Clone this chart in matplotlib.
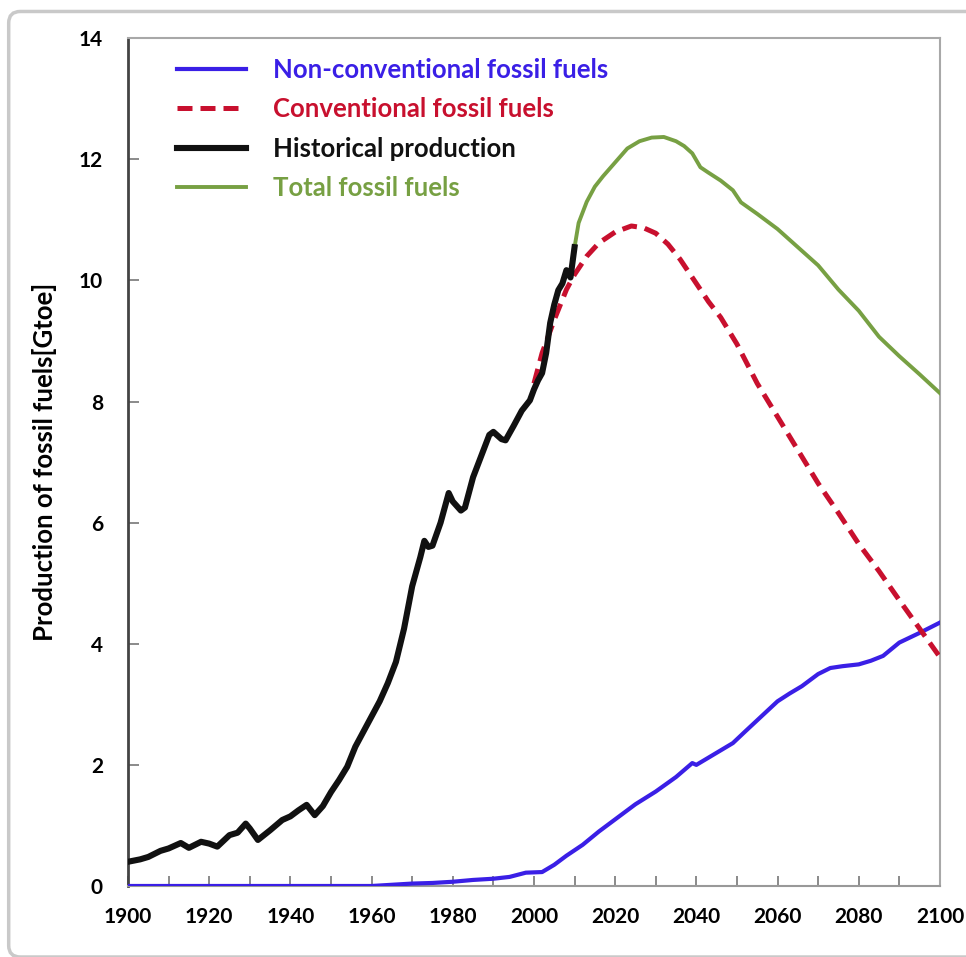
import matplotlib
matplotlib.use("Agg")
import matplotlib.pyplot as plt
from matplotlib.lines import Line2D
from matplotlib.patches import FancyBboxPatch

# Historical production (Gtoe)
hist_years = [1900, 1903, 1905, 1908, 1910, 1913, 1915, 1918, 1920, 1922, 1925, 1927, 1929, 1930,
              1932, 1935, 1938, 1940, 1942, 1944, 1946, 1948, 1950, 1952, 1954, 1956, 1958, 1960,
              1962, 1964, 1966, 1968, 1970, 1972, 1973, 1974, 1975, 1977, 1979, 1980, 1982, 1983,
              1985, 1987, 1989, 1990, 1992, 1993, 1995, 1997, 1999, 2000, 2001, 2002, 2003, 2004,
              2005, 2006, 2007, 2008, 2009, 2010]
hist_vals = [0.40, 0.44, 0.48, 0.58, 0.62, 0.71, 0.63, 0.73, 0.70, 0.65, 0.84, 0.88, 1.03, 0.95,
             0.76, 0.92, 1.09, 1.15, 1.25, 1.34, 1.17, 1.32, 1.55, 1.75, 1.97, 2.30, 2.55, 2.80,
             3.05, 3.35, 3.70, 4.25, 4.95, 5.43, 5.70, 5.60, 5.62, 6.00, 6.49, 6.35, 6.20, 6.25,
             6.75, 7.10, 7.45, 7.50, 7.38, 7.36, 7.60, 7.85, 8.02, 8.20, 8.35, 8.47, 8.80, 9.30,
             9.60, 9.84, 9.95, 10.17, 10.05, 10.55]

# Conventional fossil fuels projection
conv_years = [2000, 2002, 2005, 2008, 2010, 2013, 2016, 2020, 2024, 2027, 2030, 2033, 2036, 2040,
              2043, 2046, 2050, 2055, 2060, 2065, 2070, 2075, 2080, 2085, 2090, 2095, 2100]
conv_vals = [8.30, 8.80, 9.35, 9.85, 10.10, 10.40, 10.62, 10.80, 10.90, 10.87, 10.78, 10.60, 10.35,
             9.95, 9.65, 9.39, 8.95, 8.30, 7.75, 7.20, 6.65, 6.16, 5.65, 5.20, 4.72, 4.25, 3.78]

# Total fossil fuels projection
total_years = [2010, 2011, 2013, 2015, 2017, 2020, 2023, 2026, 2029, 2032, 2035, 2037, 2039, 2041,
               2043, 2046, 2049, 2051, 2055, 2060, 2065, 2070, 2075, 2080, 2085, 2090, 2095, 2100]
total_vals = [10.55, 10.95, 11.30, 11.55, 11.72, 11.95, 12.18, 12.30, 12.36, 12.37, 12.30, 12.22,
              12.10, 11.87, 11.78, 11.65, 11.49, 11.29, 11.10, 10.85, 10.55, 10.25, 9.85, 9.50,
              9.07, 8.75, 8.45, 8.14]

# Non-conventional fossil fuels
nonconv_years = [1900, 1960, 1965, 1970, 1975, 1980, 1985, 1990, 1994, 1998, 2002, 2005, 2008,
                 2012, 2016, 2020, 2025, 2030, 2035, 2039, 2040, 2042, 2045, 2049, 2052, 2056,
                 2060, 2063, 2066, 2070, 2073, 2076, 2080, 2083, 2086, 2090, 2095, 2100]
nonconv_vals = [0.0, 0.0, 0.02, 0.04, 0.05, 0.07, 0.10, 0.12, 0.15, 0.22, 0.23, 0.35, 0.50,
                0.68, 0.90, 1.10, 1.35, 1.56, 1.80, 2.03, 2.00, 2.08, 2.20, 2.36, 2.55, 2.80,
                3.05, 3.18, 3.30, 3.50, 3.60, 3.63, 3.66, 3.72, 3.80, 4.02, 4.18, 4.35]

labels = ['Non-conventional fossil fuels', 'Conventional fossil fuels',
          'Historical production', 'Total fossil fuels']
colors = ['#3a1fe6', '#c8102e', '#111111', '#77a043']

plt.rcParams['font.family'] = ['Lato', 'DejaVu Sans']
plt.rcParams['font.weight'] = 'bold'

fig = plt.figure(figsize=(9.66, 9.57), dpi=100)

# rounded frame of the screenshot
frame = FancyBboxPatch((0.009, 0.0), 1.2, 0.988, boxstyle='round,pad=0,rounding_size=0.012',
                       transform=fig.transFigure, facecolor='white', edgecolor='#c9c9c9',
                       linewidth=2.5, zorder=-10)
fig.patches.append(frame)

ax = fig.add_axes([0.1325, 0.0742, 0.8405, 0.8858])
ax.set_facecolor('none')

ax.plot(nonconv_years, nonconv_vals, color=colors[0], lw=3.0, zorder=3)
ax.plot(conv_years, conv_vals, color=colors[1], lw=3.6, dashes=(3, 1.6), zorder=3)
ax.plot(hist_years, hist_vals, color=colors[2], lw=4.4, zorder=4)
ax.plot(total_years, total_vals, color=colors[3], lw=2.8, zorder=3)

ax.set_xlim(1900, 2100)
ax.set_ylim(0, 14)
ax.set_xticks(range(1900, 2101, 20))
ax.set_xticks(range(1900, 2101, 10), minor=True)
ax.set_yticks(range(0, 15, 2))

ax.tick_params(axis='both', which='both', direction='in', color='#777777', width=1.2)
ax.tick_params(axis='x', which='major', length=7, pad=15, labelsize=15)
ax.tick_params(axis='x', which='minor', length=7)
ax.tick_params(axis='y', length=8, pad=18, labelsize=15)

for side in ['top', 'right']:
    ax.spines[side].set_color('#a8a8a8')
    ax.spines[side].set_linewidth(1.5)
ax.spines['left'].set_color('#444444')
ax.spines['left'].set_linewidth(2)
ax.spines['bottom'].set_color('#999999')
ax.spines['bottom'].set_linewidth(1.5)

ax.set_ylabel('Production of fossil fuels[Gtoe]', fontsize=18.5, fontweight='bold', labelpad=16)

handles = [Line2D([], [], color=colors[0], lw=3.0),
           Line2D([], [], color=colors[1], lw=3.6, dashes=(3, 1.6)),
           Line2D([], [], color=colors[2], lw=4.4),
           Line2D([], [], color=colors[3], lw=2.8)]
leg = ax.legend(handles, labels, loc='upper left', bbox_to_anchor=(0.032, 1.004), frameon=False,
                fontsize=18.5, handlelength=2.7, handletextpad=1.05, labelspacing=0.6)
for txt, c in zip(leg.get_texts(), colors):
    txt.set_color(c)
    txt.set_fontweight('bold')

fig.savefig('out.png', dpi=100)
